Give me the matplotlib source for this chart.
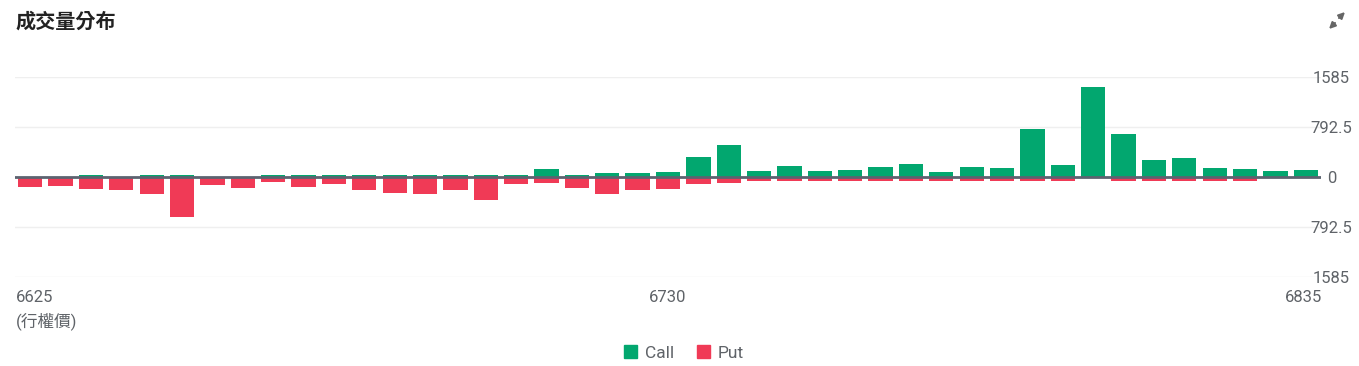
import numpy as np
from matplotlib import pyplot as plt
from matplotlib.patches import Patch
from matplotlib.transforms import ScaledTranslation

plt.rcParams['font.family'] = ['Roboto', 'Noto Sans CJK TC', 'DejaVu Sans']

STRIKES = list(range(6625, 6836, 5))

CALL = [0, 0, 35, 0, 35, 35, 0, 0, 35, 35, 35, 35, 35, 35, 35,
        35, 35, 127, 35, 58, 58, 74, 314, 505, 90, 170, 90, 106,
        160, 202, 74, 160, 144, 761, 186, 1431, 681, 266, 303, 149,
        133, 90, 106]
PUT = [160, 138, 197, 213, 277, 638, 128, 176, 80, 160, 106, 207,
       255, 271, 213, 372, 117, 96, 176, 271, 213, 192, 117, 96,
       64, 64, 64, 64, 64, 64, 64, 64, 64, 64, 64, 0, 64, 64, 64,
       64, 64, 0, 0]

Y_TICKS = [-1585, -792.5, 0, 792.5, 1585]
Y_LABELS = ["1585", "792.5", "0", "792.5", "1585"]
X_TICK_IDX = [0, 21, 42]

GREEN = '#02a76f'
RED = '#f03a56'
TEXT = '#5f6368'

W, H = 1359, 366


def main():
    fig = plt.figure(figsize=(W / 100, H / 100), dpi=100)
    ax = fig.add_axes([15 / W, 1 - 277 / H, (1321 - 15) / W, 200 / H])

    x = np.arange(len(STRIKES))
    ax.bar(x, CALL, width=0.8, color=GREEN, zorder=2)
    ax.bar(x, -np.array(PUT), width=0.8, color=RED, zorder=2)
    ax.axhline(0, color='#5c6370', lw=2, zorder=3)

    ax.set_xlim(-0.5, len(STRIKES) - 0.5)
    ax.set_ylim(-1585, 1585)
    for s in ax.spines.values():
        s.set_visible(False)

    ax.yaxis.tick_right()
    ax.set_yticks(Y_TICKS)
    ax.set_yticklabels(Y_LABELS)
    ax.yaxis.grid(True, color='#efefef', lw=1, zorder=0)
    ax.tick_params(axis='y', length=0, pad=7.5, labelsize=12,
                   labelcolor=TEXT)
    for lab in ax.get_yticklabels():
        lab.set_ha('center')

    ax.set_xticks(X_TICK_IDX)
    ax.set_xticklabels([str(STRIKES[i]) for i in X_TICK_IDX])
    ax.tick_params(axis='x', length=0, pad=9, labelsize=12,
                   labelcolor=TEXT)
    xl = ax.get_xticklabels()
    xl[0].set_ha('left')
    xl[0].set_transform(xl[0].get_transform()
                        + ScaledTranslation(-0.14, 0, fig.dpi_scale_trans))
    xl[-1].set_ha('right')
    xl[-1].set_transform(xl[-1].get_transform()
                         + ScaledTranslation(0.16, 0, fig.dpi_scale_trans))

    fig.text(16 / W, 1 - 321 / H, "(行權價)", fontsize=12, color=TEXT,
             va='center', ha='left')

    fig.text(16 / W, 1 - 21 / H, "成交量分布", fontsize=14.5, color='#222222',
             va='center', ha='left', weight='bold',
             family=['Noto Sans CJK TC', 'DejaVu Sans'])

    # expand icon
    arrow = dict(arrowstyle='-|>', color='#666666', lw=1.5,
                 mutation_scale=9, shrinkA=0, shrinkB=0)
    ax.annotate('', xy=(1345, H - 12), xytext=(1339, H - 18),
                xycoords='figure pixels', textcoords='figure pixels',
                arrowprops=arrow)
    ax.annotate('', xy=(1329, H - 29), xytext=(1335, H - 23),
                xycoords='figure pixels', textcoords='figure pixels',
                arrowprops=arrow)

    handles = [Patch(color=GREEN, label='Call'), Patch(color=RED, label='Put')]
    leg = fig.legend(handles=handles, loc='center',
                     bbox_to_anchor=(684 / W, 1 - 353 / H), ncol=2,
                     frameon=False, handlelength=0.75, handleheight=0.75,
                     handletextpad=0.45, columnspacing=1.3, fontsize=12.5)
    for t in leg.get_texts():
        t.set_color(TEXT)

    fig.savefig('out.png', dpi=100)
    plt.close(fig)


if __name__ == "__main__":
    main()
